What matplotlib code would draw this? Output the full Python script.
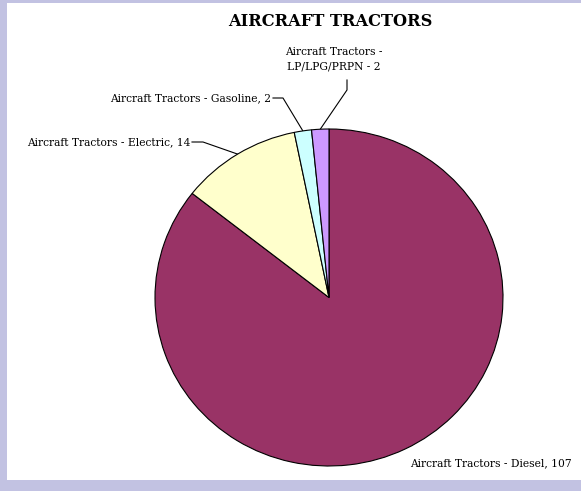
"""Aircraft tractors by fuel type - pie chart"""
import matplotlib
matplotlib.use('Agg')
import matplotlib.pyplot as plt
from matplotlib.lines import Line2D
from matplotlib.patches import Rectangle
import numpy as np

# Data
categories = ['Diesel', 'Electric', 'Gasoline', 'LP/LPG/PRPN']
counts = [107, 14, 2, 2]
colors = ['#993366', '#FFFFCC', '#CCFFFF', '#CC99FF']

W, H = 581, 491
BG = '#C2C2E2'
FONT = 'DejaVu Serif'

fig = plt.figure(figsize=(W / 100, H / 100), dpi=100, facecolor=BG)


def px(x, y):
    """reference pixel (top-left origin) -> figure fraction"""
    return x / W, 1 - y / H


# white panel
panel = Rectangle(px(7, 480), (W - 7) / W, (480 - 3) / H, transform=fig.transFigure,
                  facecolor='white', edgecolor='none', zorder=-5)
fig.patches.append(panel)

# pie axes sized to the ellipse bbox
left, top, right, bottom = 155, 129, 503, 466
x0, y0 = px(left, bottom)
ax = fig.add_axes([x0, y0, (right - left) / W, (bottom - top) / H], zorder=2)
wedges, _ = ax.pie(counts, colors=colors, startangle=90, counterclock=False,
                   wedgeprops=dict(edgecolor='black', linewidth=0.8))
ax.set_aspect('auto')
ax.set_xlim(-1, 1)
ax.set_ylim(-1, 1)
ax.axis('off')

fig.text(*px(330, 21), 'AIRCRAFT TRACTORS', fontsize=11.7, fontweight='bold',
         family=FONT, ha='center', va='center')


def edge_point(w):
    mid = np.deg2rad((w.theta1 + w.theta2) / 2)
    disp = ax.transData.transform((np.cos(mid), np.sin(mid)))
    return fig.transFigure.inverted().transform(disp)


def leader(pts_px, wedge):
    pts = [px(x, y) for x, y in pts_px] + [tuple(edge_point(wedge))]
    xs, ys = zip(*pts)
    fig.add_artist(Line2D(xs, ys, transform=fig.transFigure, color='black', lw=0.8))


lbl = dict(fontsize=7.7, family=FONT, va='center')

# Electric
fig.text(*px(190, 142), 'Aircraft Tractors - Electric, 14', ha='right', **lbl)
leader([(192, 142), (203, 142)], wedges[1])

# Gasoline
fig.text(*px(271, 98), 'Aircraft Tractors - Gasoline, 2', ha='right', **lbl)
leader([(273, 98), (283, 98)], wedges[2])

# LP/LPG/PRPN
fig.text(*px(334, 59), 'Aircraft Tractors -\nLP/LPG/PRPN - 2', ha='center',
         linespacing=1.6, **lbl)
leader([(347, 80), (347, 90)], wedges[3])

# Diesel
fig.text(*px(410, 463), 'Aircraft Tractors - Diesel, 107', ha='left', **lbl)

fig.savefig('out.png', dpi=100, facecolor=BG)
plt.close()
